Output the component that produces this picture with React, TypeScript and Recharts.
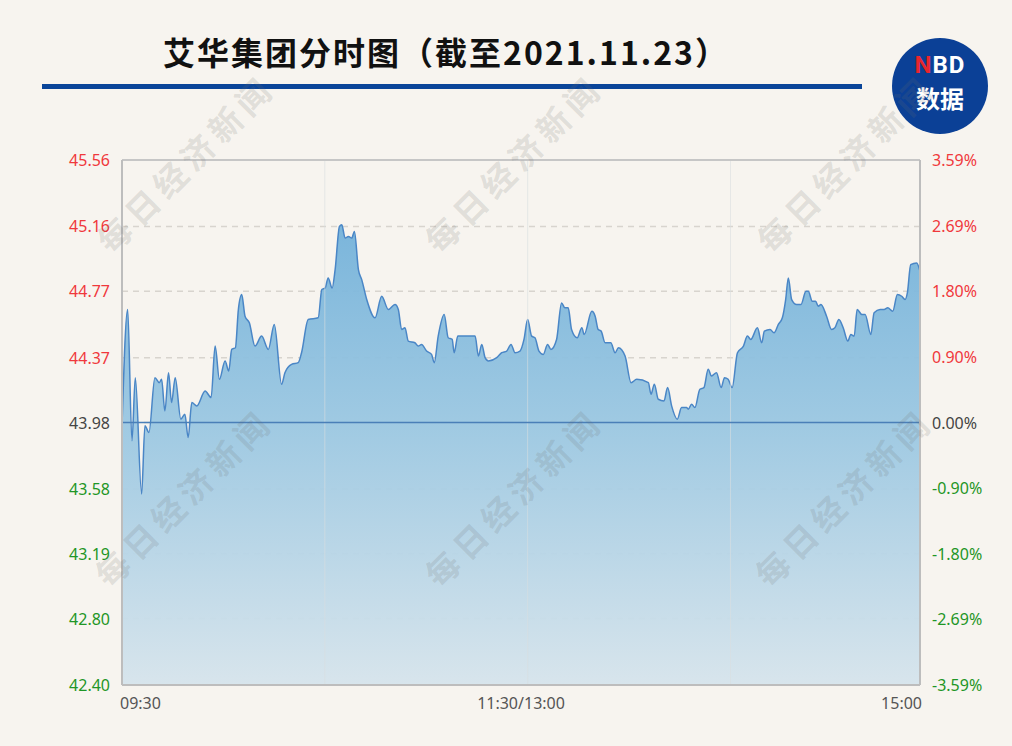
import React from "react";
import {
  AreaChart,
  Area,
  Line,
  XAxis,
  YAxis,
  CartesianGrid,
  ReferenceLine,
} from "recharts";

const PREV_CLOSE = 43.98;

const minutes = [
  0, 1.7, 3.0, 4.0, 5.9, 6.9, 8.1, 9.9, 11.2, 11.9, 12.9, 14.0, 14.9, 16.0, 17.7, 18.9, 19.9, 21.0, 22.5, 25.0,
  26.8, 28.0, 29.3, 31.0, 32.1, 33.0, 34.1, 35.0, 36.0, 37.0, 38.3, 40.0, 42.0, 44.0, 45.8, 48.0, 49.0, 51.0, 53.0,
  54.0, 56.0, 59.0, 60.1, 61.1, 62.0, 63.2, 64.1, 65.4, 66.1, 67.1, 68.1, 69.1, 69.9, 71.1, 72.1, 73.6, 76.1, 78.1,
  80.1, 82.1, 83.1, 84.1, 85.1, 86.1, 88.1, 89.1, 90.1, 91.6, 93.1, 93.9, 95.1, 96.9, 98.1, 99.3, 99.9, 101.0, 106.2,
  107.2, 108.2, 109.2, 110.2, 112.7, 114.2, 115.7, 117.0, 118.2, 119.7, 120.9, 122.0, 123.2, 124.2, 125.4, 126.7,
  128.0, 129.0, 130.7, 132.2, 133.2, 134.2, 135.2, 136.9, 138.3, 139.0, 141.3, 142.3, 143.2, 144.1, 145.3, 147.0,
  148.3, 149.3, 151.3, 153.1, 154.8, 158.3, 159.1, 160.1, 161.3, 163.0, 164.1, 165.3, 167.0, 168.3, 169.8, 170.3,
  171.3, 172.3, 173.8, 175.0, 176.3, 177.3, 178.8, 180.2, 181.2, 182.3, 183.5, 185.1, 186.9, 188.1, 189.1, 191.1,
  192.4, 193.2, 194.9, 196.1, 197.4, 198.6, 199.6, 200.4, 201.4, 202.9, 204.2, 205.7, 206.4, 207.6, 208.6, 209.4,
  210.2, 211.9, 213.4, 214.4, 215.6, 216.9, 218.3, 219.2, 220.2, 221.1, 222.5, 223.5, 225.2, 226.2, 228.0, 229.2,
  230.3, 231.8, 233.2, 234.5, 235.5, 236.2, 237.2, 239.0, 240.0,
];

const prices = [
  43.96, 44.66, 43.87, 44.25, 43.55, 43.96, 43.92, 44.25, 44.22, 44.24, 44.05, 44.28, 44.10, 44.25, 44.0, 44.03,
  43.89, 44.10, 44.08, 44.17, 44.13, 44.44, 44.24, 44.35, 44.29, 44.42, 44.43, 44.66, 44.75, 44.62, 44.58, 44.44,
  44.50, 44.42, 44.57, 44.21, 44.28, 44.33, 44.34, 44.40, 44.60, 44.61, 44.78, 44.79, 44.85, 44.79, 44.90, 45.16,
  45.17, 45.09, 45.10, 45.09, 45.13, 44.90, 44.84, 44.72, 44.61, 44.74, 44.66, 44.69, 44.66, 44.54, 44.55, 44.47,
  44.46, 44.44, 44.45, 44.41, 44.39, 44.34, 44.50, 44.63, 44.49, 44.48, 44.40, 44.50, 44.50, 44.38, 44.45, 44.37,
  44.35, 44.37, 44.40, 44.41, 44.45, 44.40, 44.41, 44.48, 44.60, 44.50, 44.49, 44.41, 44.39, 44.45, 44.42, 44.48,
  44.70, 44.67, 44.67, 44.54, 44.49, 44.55, 44.51, 44.65, 44.62, 44.54, 44.53, 44.46, 44.46, 44.40, 44.43, 44.38,
  44.22, 44.24, 44.22, 44.15, 44.21, 44.12, 44.11, 44.19, 44.08, 44.0, 44.07, 44.07, 44.06, 44.09, 44.07, 44.18,
  44.19, 44.30, 44.26, 44.28, 44.19, 44.25, 44.24, 44.19, 44.40, 44.44, 44.50, 44.48, 44.55, 44.46, 44.53, 44.54,
  44.52, 44.57, 44.61, 44.72, 44.85, 44.72, 44.69, 44.69, 44.77, 44.77, 44.71, 44.71, 44.68, 44.69, 44.62, 44.54,
  44.55, 44.60, 44.55, 44.47, 44.51, 44.50, 44.66, 44.63, 44.63, 44.51, 44.64, 44.66, 44.66, 44.67, 44.65, 44.75,
  44.74, 44.72, 44.76, 44.93, 44.94, 44.89,
];

const leftTickLabels = ["45.56", "45.16", "44.77", "44.37", "43.98", "43.58", "43.19", "42.80", "42.40"];
const rightTickLabels = ["3.59%", "2.69%", "1.80%", "0.90%", "0.00%", "-0.90%", "-1.80%", "-2.69%", "-3.59%"];
const xTicks = [0, 120, 240];
const xTickLabels = ["09:30", "11:30/13:00", "15:00"];
const hourGrid = [61, 122, 183];
const watermarkText = "每日经济新闻";
const watermarkCenters = [
  [180, 168],
  [508, 168],
  [840, 168],
  [178, 502],
  [508, 502],
  [838, 502],
];

const data = minutes.map((t, i) => ({
  t,
  price: prices[i],
  pct: ((prices[i] - PREV_CLOSE) / PREV_CLOSE) * 100,
}));

const leftTicks = leftTickLabels.map(Number);
const rightTicks = rightTickLabels.map((s) => parseFloat(s));

const RED = "#f0383c";
const GREEN = "#1f9626";
const GRAY = "#444444";
const FONT = "'Noto Sans', 'Noto Sans CJK SC', sans-serif";

const colorFor = (v: number, base: number) => (Math.abs(v - base) < 1e-6 ? GRAY : v > base ? RED : GREEN);

const LeftTick = (props: any) => {
  const { x, y, payload } = props;
  const v = payload.value as number;
  const idx = leftTicks.indexOf(v);
  return (
    <text x={x} y={y} textAnchor="end" dominantBaseline="central" fontSize={16} fontFamily={FONT} fill={colorFor(v, PREV_CLOSE)}>
      {idx >= 0 ? leftTickLabels[idx] : v.toFixed(2)}
    </text>
  );
};

const RightTick = (props: any) => {
  const { x, y, payload } = props;
  const v = payload.value as number;
  const idx = rightTicks.indexOf(v);
  return (
    <text x={x} y={y} textAnchor="start" dominantBaseline="central" fontSize={16} fontFamily={FONT} fill={colorFor(v, 0)}>
      {idx >= 0 ? rightTickLabels[idx] : v.toFixed(2) + "%"}
    </text>
  );
};

const XTick = (props: any) => {
  const { x, y, payload } = props;
  const idx = xTicks.indexOf(payload.value);
  const anchor = idx === 0 ? "start" : idx === xTicks.length - 1 ? "end" : "middle";
  const dx = idx === 0 ? -2 : idx === xTicks.length - 1 ? 2 : 0;
  return (
    <text x={x + dx} y={y} dy={12} textAnchor={anchor} dominantBaseline="central" fontSize={16} fontFamily={FONT} fill="#555555">
      {idx >= 0 ? xTickLabels[idx] : ""}
    </text>
  );
};

export default function App() {
  return (
    <div
      style={{
        position: "absolute",
        left: 0,
        top: 0,
        width: 1012,
        height: 746,
        background: "#f7f4ef",
        overflow: "hidden",
        fontFamily: FONT,
      }}
    >
      <div
        style={{
          position: "absolute",
          left: 46,
          width: 800,
          top: 29,
          textAlign: "center",
          fontSize: 32,
          lineHeight: "44px",
          fontWeight: 700,
          letterSpacing: 2,
          color: "#111111",
          fontFamily: "'Noto Sans CJK SC', sans-serif",
        }}
      >
        艾华集团分时图（截至2021.11.23）
      </div>
      <div style={{ position: "absolute", left: 42, top: 84, width: 820, height: 5, background: "#0a4599" }} />
      <div
        style={{
          position: "absolute",
          left: 892,
          top: 38,
          width: 96,
          height: 96,
          borderRadius: "50%",
          background: "#0b4096",
          color: "#ffffff",
          textAlign: "center",
          fontWeight: 700,
        }}
      >
        <div
          style={{
            position: "absolute",
            left: 0,
            right: 0,
            top: 14,
            fontSize: 24,
            lineHeight: "26px",
            letterSpacing: 1,
            whiteSpace: "nowrap",
            fontFamily: "Roboto, 'Noto Sans', sans-serif",
          }}
        >
          <span style={{ color: "#e8262d" }}>N</span>BD
        </div>
        <div
          style={{
            position: "absolute",
            left: 0,
            right: 0,
            top: 45,
            fontSize: 24,
            lineHeight: "30px",
            fontFamily: "'Noto Sans CJK SC', sans-serif",
          }}
        >
          数据
        </div>
      </div>

      <div style={{ position: "absolute", left: 0, top: 0 }}>
        <AreaChart width={1012} height={746} data={data} margin={{ top: 160, right: 12, bottom: 31, left: 62 }}>
          <defs>
            <linearGradient id="fillGrad" x1="0" y1="0" x2="0" y2="1">
              <stop offset="0%" stopColor="#74b2da" />
              <stop offset="45%" stopColor="#9cc8e2" />
              <stop offset="100%" stopColor="#d6e4ec" />
            </linearGradient>
          </defs>
          <CartesianGrid yAxisId="price" vertical={false} strokeDasharray="6 5" stroke="#d8d4ce" strokeWidth={1.5} />
          <XAxis
            dataKey="t"
            type="number"
            domain={[0, 240]}
            ticks={xTicks}
            tick={<XTick />}
            tickLine={false}
            tickSize={4}
            tickMargin={2}
            axisLine={{ stroke: "#bdbdbd", strokeWidth: 2 }}
            height={30}
            interval={0}
          />
          <YAxis
            yAxisId="price"
            orientation="left"
            domain={[42.4, 45.56]}
            ticks={leftTicks}
            tick={<LeftTick />}
            tickLine={false}
            tickSize={10}
            tickMargin={2}
            axisLine={{ stroke: "#bdbdbd", strokeWidth: 2 }}
            width={60}
            interval={0}
            allowDataOverflow
          />
          <YAxis
            yAxisId="pct"
            orientation="right"
            domain={[-3.59, 3.59]}
            ticks={rightTicks}
            tick={<RightTick />}
            tickLine={false}
            tickSize={10}
            tickMargin={2}
            axisLine={{ stroke: "#bdbdbd", strokeWidth: 2 }}
            width={80}
            interval={0}
            allowDataOverflow
          />
          <Area
            yAxisId="price"
            type="monotone"
            dataKey="price"
            stroke="#4a86c6"
            strokeWidth={1.5}
            fill="url(#fillGrad)"
            fillOpacity={0.95}
            dot={false}
            activeDot={false}
            isAnimationActive={false}
          />
          <Line
            yAxisId="pct"
            type="monotone"
            dataKey="pct"
            stroke="none"
            dot={false}
            activeDot={false}
            isAnimationActive={false}
          />
          {hourGrid.map((m) => (
            <ReferenceLine key={m} yAxisId="price" x={m} stroke="#d9dde0" strokeOpacity={0.6} strokeWidth={1} />
          ))}
          <ReferenceLine yAxisId="price" y={PREV_CLOSE} stroke="#4a7fb8" strokeWidth={1.5} />
          <ReferenceLine yAxisId="price" y={45.56} stroke="#c6c6c6" strokeWidth={2} />
        </AreaChart>
      </div>

      {watermarkCenters.map(([cx, cy], i) => (
        <div
          key={i}
          style={{
            position: "absolute",
            left: cx - 110,
            top: cy - 22,
            width: 220,
            height: 44,
            lineHeight: "44px",
            textAlign: "center",
            transform: "rotate(-45deg)",
            fontSize: 33,
            fontWeight: 700,
            letterSpacing: 6,
            color: "rgba(110,110,110,0.18)",
            fontFamily: "'Noto Sans CJK SC', sans-serif",
            pointerEvents: "none",
            whiteSpace: "nowrap",
          }}
        >
          {watermarkText}
        </div>
      ))}
    </div>
  );
}
